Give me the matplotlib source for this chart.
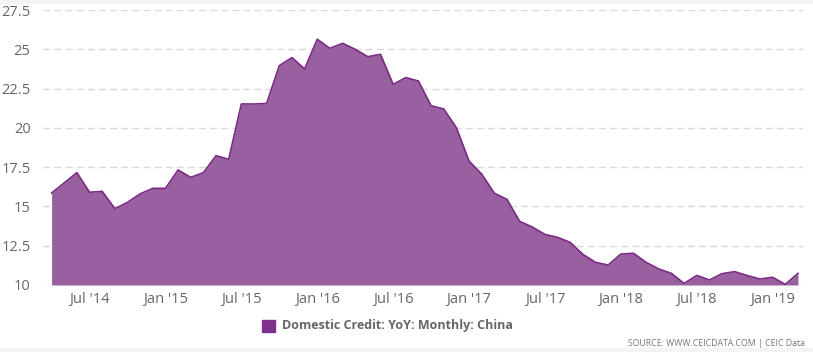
import matplotlib as mpl
mpl.use('Agg')
import matplotlib.pyplot as plt
from matplotlib.patches import Rectangle

plt.rcParams['font.family'] = ['Open Sans', 'DejaVu Sans']

# monthly data, Apr 2014 .. Mar 2019
values = [
    15.85, 16.5, 17.15, 15.9, 15.96, 14.86, 15.26, 15.8, 16.15,
    16.15, 17.32, 16.85, 17.15, 18.23, 18.0, 21.52, 21.52, 21.55, 23.96, 24.47, 23.75,
    25.64, 25.06, 25.38, 25.0, 24.53, 24.68, 22.77, 23.2, 22.98, 21.41, 21.2, 20.01,
    17.89, 17.06, 15.84, 15.45, 14.05, 13.69, 13.22, 13.03, 12.71, 11.95, 11.44, 11.27,
    11.97, 12.02, 11.44, 11.02, 10.74, 10.1, 10.61, 10.32, 10.72, 10.85, 10.6, 10.38,
    10.49, 10.04, 10.74,
]
x = list(range(len(values)))

tick_pos = [3, 9, 15, 21, 27, 33, 39, 45, 51, 57]
tick_labels = ["Jul '14", "Jan '15", "Jul '15", "Jan '16", "Jul '16",
               "Jan '17", "Jul '17", "Jan '18", "Jul '18", "Jan '19"]
y_ticks = [10, 12.5, 15, 17.5, 20, 22.5, 25, 27.5]

fig = plt.figure(figsize=(8.13, 3.52), dpi=100)
ax = fig.add_axes([43 / 813, 1 - 285 / 352, 760 / 813, 275 / 352])

ax.fill_between(x, values, 10, color='#98609e', linewidth=0, zorder=2)
ax.plot(x, values, color='#7a2a84', linewidth=1.2, zorder=3)

ax.set_xlim(-0.68, 59.4)
ax.set_ylim(10, 27.5)
ax.set_yticks(y_ticks)
ax.set_yticklabels(['10', '12.5', '15', '17.5', '20', '22.5', '25', '27.5'])
ax.set_xticks(tick_pos)
ax.set_xticklabels(tick_labels)
ax.tick_params(axis='both', length=0, colors='#666666', labelsize=10.5)
ax.tick_params(axis='x', pad=5)
ax.tick_params(axis='y', pad=9)
ax.grid(axis='y', color='#d9d9d9', linestyle=(0, (5, 3)), linewidth=1, zorder=1)
for s in ax.spines.values():
    s.set_visible(False)

# legend
fig.patches.append(Rectangle((262 / 813, 1 - 332 / 352), 13 / 813, 12 / 352,
                             transform=fig.transFigure, color='#7f2f8c'))
fig.text(282 / 813, 1 - 326 / 352, 'Domestic Credit: YoY: Monthly: China',
         fontsize=9, fontweight='bold', color='#666666', va='center', ha='left')
fig.text(805 / 813, 1 - 343 / 352, 'SOURCE: WWW.CEICDATA.COM | CEIC Data',
         fontsize=6.3, color='#777777', va='center', ha='right')

# light bands top and bottom
fig.patches.append(Rectangle((0, 0), 1, 4 / 352, transform=fig.transFigure, color='#f4f4f4'))
fig.patches.append(Rectangle((0, 1 - 3 / 352), 1, 3 / 352, transform=fig.transFigure, color='#f4f4f4'))

plt.savefig('out.png', dpi=100)
plt.close()
